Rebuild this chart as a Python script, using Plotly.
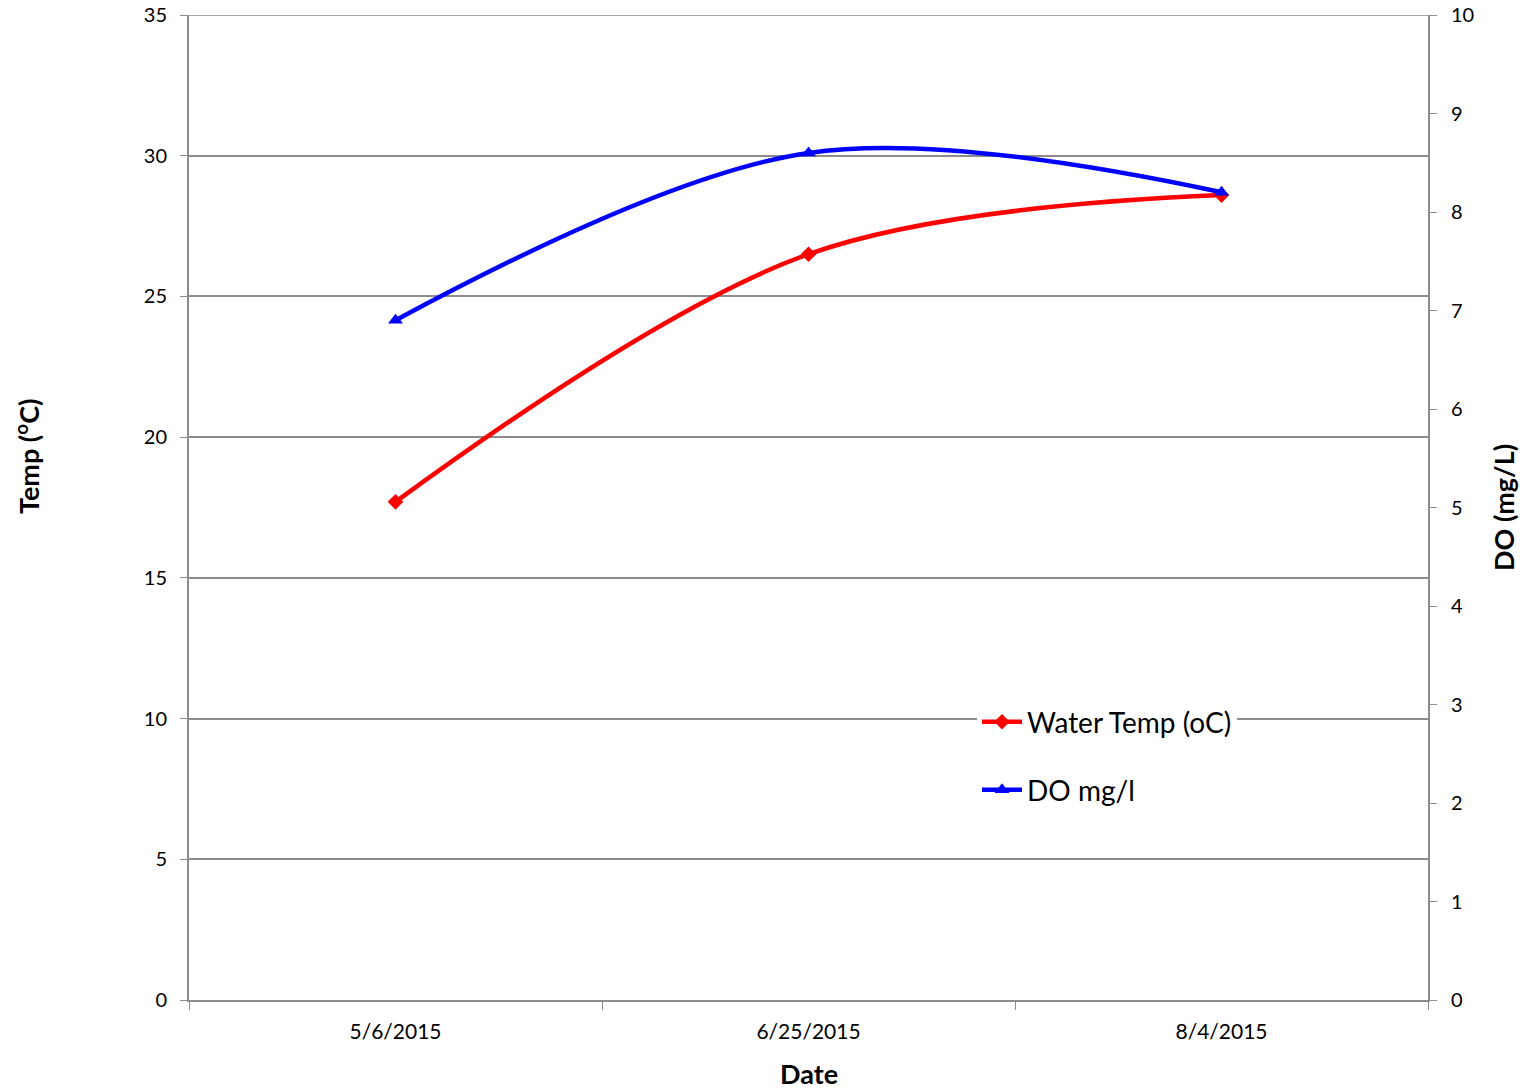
import plotly.graph_objects as go

dates = ["5/6/2015", "6/25/2015", "8/4/2015"]
water_temp = [17.7, 26.5, 28.6]
do_mgl = [6.9, 8.6, 8.2]

FONT = "Lato"
GRID = "#8c8c8c"

fig = go.Figure()
fig.add_trace(go.Scatter(
    x=dates, y=water_temp, name="Water Temp (oC)", mode="lines+markers",
    line=dict(color="#ff0000", width=4.5, shape="spline", smoothing=1.0),
    marker=dict(symbol="diamond", size=12, color="#ff0000"),
    legend="legend", yaxis="y"))
fig.add_trace(go.Scatter(
    x=dates, y=do_mgl, name="DO mg/l", mode="lines+markers",
    line=dict(color="#0000ff", width=4.5, shape="spline", smoothing=1.0),
    marker=dict(symbol="triangle-up", size=13, color="#0000ff"),
    legend="legend2", yaxis="y2"))

# plot area in page coords: x 189..1428, y 15..1000 (body margin removed below)
fig.update_layout(
    width=1528, height=1090,
    margin=dict(l=189, r=100, t=15, b=90),
    paper_bgcolor="white", plot_bgcolor="white",
    font=dict(family=FONT, color="#000000", size=20),
    showlegend=True,
    xaxis=dict(
        type="category", range=[-0.5, 2.5], automargin=False,
        tickson="boundaries", ticks="outside", ticklen=8, tickcolor=GRID,
        showgrid=False, showline=True, linecolor=GRID, linewidth=2,
        tickfont=dict(size=21), ticklabelstandoff=12,
    ),
    yaxis=dict(
        range=[0, 35], dtick=5, tick0=0, automargin=False,
        ticks="outside", ticklen=7, tickcolor=GRID,
        showgrid=True, gridcolor=GRID, gridwidth=1.5,
        showline=True, linecolor=GRID, linewidth=2,
        zeroline=False, tickfont=dict(size=20),
        ticklabeloverflow="allow", ticklabelstandoff=9,
    ),
    yaxis2=dict(
        range=[0, 10], dtick=1, tick0=0, overlaying="y", side="right",
        automargin=False,
        ticks="outside", ticklen=7, tickcolor=GRID,
        showgrid=False, showline=True, linecolor=GRID, linewidth=2,
        zeroline=False, tickfont=dict(size=20),
        ticklabeloverflow="allow", ticklabelstandoff=10,
    ),
    legend=dict(
        x=0.636, y=(1000 - 697) / 985, xanchor="left", yanchor="top",
        bgcolor="white", font=dict(size=28, family=FONT),
        borderwidth=0, itemwidth=40,
    ),
    legend2=dict(
        x=0.636, y=(1000 - 765) / 985, xanchor="left", yanchor="top",
        bgcolor="rgba(0,0,0,0)", font=dict(size=28, family=FONT),
        borderwidth=0, itemwidth=40,
    ),
    shapes=[
        dict(type="line", xref="paper", yref="y", x0=0, x1=1, y0=35, y1=35,
             line=dict(color=GRID, width=1.5), layer="below"),
    ],
    annotations=[
        dict(text="<b>Date</b>", xref="paper", yref="paper",
             x=0.5, y=(1000 - 1073) / 985, xanchor="center", yanchor="middle",
             showarrow=False, font=dict(size=27)),
        dict(text="<b>Temp (<sup>o</sup>C)</b>", xref="paper", yref="paper",
             x=(27 - 189) / 1239, y=(1000 - 457) / 985, xanchor="center", yanchor="middle",
             textangle=-90, showarrow=False, font=dict(size=27)),
        dict(text="<b>DO (mg/L)</b>", xref="paper", yref="paper",
             x=(1504 - 189) / 1239, y=(1000 - 508) / 985, xanchor="center", yanchor="middle",
             textangle=-90, showarrow=False, font=dict(size=27)),
    ],
)

fig.write_html(
    "out.html",
    config={"displayModeBar": False},
    post_script="document.body.style.margin='0';document.body.style.padding='0';",
)
